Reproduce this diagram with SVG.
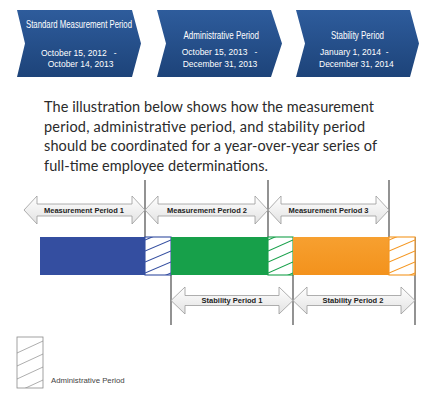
<svg xmlns="http://www.w3.org/2000/svg" width="426" height="393" viewBox="0 0 426 393">
<style>
.chev{fill:url(#chevGrad);}
.ttl{font-family:"Liberation Sans",Arial,sans-serif;font-size:11.5px;fill:#fff;}
.date{font-family:"Liberation Sans",Arial,sans-serif;font-size:8.5px;fill:#fff;}
.para{font-family:Lato,"Open Sans",sans-serif;font-size:14.5px;fill:#2b2b2b;}
.arrow{fill:url(#arrGrad);stroke:#9a9a9a;stroke-width:0.8;}
.alab{font-family:"Liberation Sans",Arial,sans-serif;font-size:7.5px;font-weight:bold;fill:#222;text-anchor:middle;}
.vline{stroke:#4a4a4a;stroke-width:1.2;fill:none;}
.hb{stroke:#344ea0;stroke-width:1.1;fill:none;}
.hg{stroke:#17a04a;stroke-width:1.1;fill:none;}
.ho{stroke:#f5961f;stroke-width:1.1;fill:none;}
.hl{stroke:#999;stroke-width:0.8;fill:none;}
.leg{font-family:"Liberation Sans",Arial,sans-serif;font-size:7.8px;fill:#444;}
</style>
<defs>
<linearGradient id="chevGrad" x1="0" y1="0" x2="0" y2="1">
<stop offset="0" stop-color="#2e5c9c"/>
<stop offset="1" stop-color="#1d4379"/>
</linearGradient>
<linearGradient id="arrGrad" x1="0" y1="0" x2="0" y2="1">
<stop offset="0" stop-color="#ffffff"/>
<stop offset="1" stop-color="#e2e2e2"/>
</linearGradient>
<linearGradient id="orGrad" x1="0" y1="0" x2="0" y2="1">
<stop offset="0" stop-color="#f7a030"/>
<stop offset="1" stop-color="#f3921c"/>
</linearGradient>
</defs>
<rect width="426" height="393" fill="#fff"/>

<g id="chevron-measurement">
<polygon class="chev" points="17,10 132,10 141,43.5 132,77 17,77 25,43.5"/>
<text class="ttl" x="26" y="27.5" textLength="106" lengthAdjust="spacingAndGlyphs">Standard Measurement Period</text>
<text class="date" x="41" y="55.5" xml:space="preserve">October 15, 2012   -</text>
<text class="date" x="47.7" y="66.7">October 14, 2013</text>
</g>
<g id="chevron-administrative">
<polygon class="chev" points="157,10 271,10 282,43.5 271,77 157,77 166,43.5"/>
<text class="ttl" x="183.5" y="38.5" textLength="75.5" lengthAdjust="spacingAndGlyphs">Administrative Period</text>
<text class="date" x="181.7" y="55" xml:space="preserve">October 15, 2013   -</text>
<text class="date" x="182.7" y="66.7">December 31, 2013</text>
</g>
<g id="chevron-stability">
<polygon class="chev" points="296,10 410,10 419,43.5 410,77 296,77 305,43.5"/>
<text class="ttl" x="331" y="38.5" textLength="53" lengthAdjust="spacingAndGlyphs">Stability Period</text>
<text class="date" x="320" y="55" xml:space="preserve">January 1, 2014  -</text>
<text class="date" x="319" y="66.7">December 31, 2014</text>
</g>

<g id="paragraph">
<text class="para" x="44" y="112" textLength="330">The illustration below shows how the measurement</text>
<text class="para" x="44" y="131.5" textLength="321">period, administrative period, and stability period</text>
<text class="para" x="44" y="151" textLength="333">should be coordinated for a year-over-year series of</text>
<text class="para" x="44" y="170.5" textLength="224">full-time employee determinations.</text>
</g>

<g id="connectors">
<line class="vline" x1="145" y1="180" x2="145" y2="275"/>
<line class="vline" x1="268" y1="180" x2="268" y2="275"/>
<line class="vline" x1="389" y1="180" x2="389" y2="275"/>
<line class="vline" x1="171" y1="237" x2="171" y2="325"/>
<line class="vline" x1="293" y1="237" x2="293" y2="325"/>
<line class="vline" x1="415" y1="237" x2="415" y2="325"/>
</g>

<g id="measurement-period-1">
<path class="arrow" d="M24,210 L37,196 L37,204 L132,204 L132,196 L145,210 L132,224 L132,216 L37,216 L37,224 Z"/>
<text class="alab" x="84" y="212.7">Measurement Period 1</text>
</g>
<g id="measurement-period-2">
<path class="arrow" d="M145,210 L158,196 L158,204 L255,204 L255,196 L268,210 L255,224 L255,216 L158,216 L158,224 Z"/>
<text class="alab" x="207" y="212.7">Measurement Period 2</text>
</g>
<g id="measurement-period-3">
<path class="arrow" d="M268,210 L281,196 L281,204 L376,204 L376,196 L389,210 L376,224 L376,216 L281,216 L281,224 Z"/>
<text class="alab" x="328.5" y="212.7">Measurement Period 3</text>
</g>

<g id="bar-blue">
<rect x="40" y="237" width="105" height="38" fill="#344ea0"/>
</g>
<g id="admin-1">
<rect x="145" y="237" width="26" height="38" fill="#fff"/>
<svg x="145" y="237" width="26" height="38">
<g class="hb"><line x1="0" y1="3" x2="26" y2="-8"/><line x1="0" y1="14" x2="26" y2="3"/><line x1="0" y1="25" x2="26" y2="14"/><line x1="0" y1="36" x2="26" y2="25"/><line x1="0" y1="47" x2="26" y2="36"/></g>
</svg>
<rect class="hb" x="145" y="237" width="26" height="38"/>
</g>
<g id="bar-green">
<rect x="171" y="237" width="97" height="38" fill="#17a04a"/>
</g>
<g id="admin-2">
<rect x="268" y="237" width="25" height="38" fill="#fff"/>
<svg x="268" y="237" width="25" height="38">
<g class="hg"><line x1="0" y1="3" x2="25" y2="-8"/><line x1="0" y1="14" x2="25" y2="3"/><line x1="0" y1="25" x2="25" y2="14"/><line x1="0" y1="36" x2="25" y2="25"/><line x1="0" y1="47" x2="25" y2="36"/></g>
</svg>
<rect class="hg" x="268" y="237" width="25" height="38"/>
</g>
<g id="bar-orange">
<rect x="293" y="237" width="96" height="38" fill="url(#orGrad)"/>
</g>
<g id="admin-3">
<rect x="389" y="237" width="26" height="38" fill="#fff"/>
<svg x="389" y="237" width="26" height="38">
<g class="ho"><line x1="0" y1="3" x2="26" y2="-8"/><line x1="0" y1="14" x2="26" y2="3"/><line x1="0" y1="25" x2="26" y2="14"/><line x1="0" y1="36" x2="26" y2="25"/><line x1="0" y1="47" x2="26" y2="36"/></g>
</svg>
<rect class="ho" x="389" y="237" width="26" height="38"/>
</g>

<g id="stability-period-1">
<path class="arrow" d="M171,300.5 L185,287 L185,295.5 L279,295.5 L279,287 L293,300.5 L279,314 L279,305.5 L185,305.5 L185,314 Z"/>
<text class="alab" x="232" y="303">Stability Period 1</text>
</g>
<g id="stability-period-2">
<path class="arrow" d="M293,300.5 L307,287 L307,295.5 L401,295.5 L401,287 L415,300.5 L401,314 L401,305.5 L307,305.5 L307,314 Z"/>
<text class="alab" x="353" y="302.5">Stability Period 2</text>
</g>

<g id="legend">
<svg x="17" y="337" width="26" height="51">
<g class="hl"><line x1="0" y1="16" x2="26" y2="4"/><line x1="0" y1="29" x2="26" y2="17"/><line x1="0" y1="42" x2="26" y2="30"/><line x1="0" y1="55" x2="26" y2="43"/></g>
</svg>
<rect x="17" y="337" width="26" height="51" fill="none" stroke="#8a8a8a" stroke-width="0.8"/>
<text class="leg" x="51" y="383">Administrative Period</text>
</g>
</svg>
